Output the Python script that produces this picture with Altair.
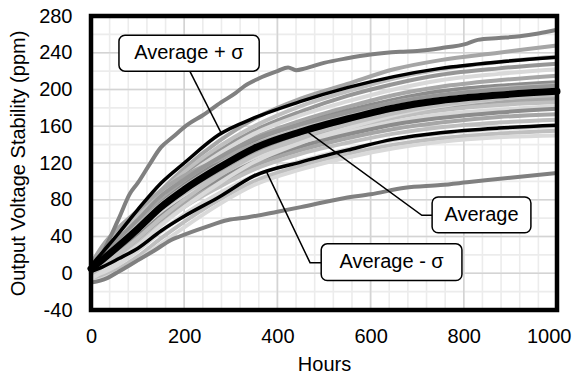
import altair as alt
import pandas as pd

# ---------------- data ----------------
hours = [0, 25, 60, 100, 150, 200, 275, 350, 450, 550, 650, 750, 875, 1000]

average   = [5, 15, 30, 48, 72, 91, 115, 136, 154, 168, 180, 188, 194, 198]
avg_plus  = [8, 23, 44, 69, 98, 120, 151, 169, 187, 202, 214, 223, 230, 235]
avg_minus = [2, 7, 16, 27, 46, 62, 83, 106, 121, 134, 146, 153, 158, 161]

top_hours = [0, 25, 60, 84, 100, 125, 150, 175, 208, 240, 279, 310, 330, 360, 400,
             423, 440, 460, 500, 550, 600, 663, 700, 750, 807, 830, 875, 920, 960, 1000]
top_outlier = [0, 22, 60, 87, 98, 118, 137, 148, 162, 172, 186, 196, 204, 212, 220,
               224, 221, 223, 229, 234, 238, 241, 242, 245, 250, 254, 256, 258, 261, 265]
bottom_hours = [0, 20, 36, 60, 100, 137, 171, 190, 244, 294, 337, 400, 450, 545, 600,
                674, 750, 807, 900, 1000]
bottom_outlier = [-10, -8, -5, 2, 14, 25, 36, 40, 50, 58, 61, 67, 72, 82, 86,
                  93, 96, 99, 104, 109]

g01 = [3, 20, 40, 62, 90, 114, 144, 168, 190, 206, 222, 232, 240, 248]
g02 = [6, 22, 42, 63, 88, 110, 138, 160, 182, 198, 212, 222, 230, 236]
g03 = [2, 16, 34, 55, 82, 105, 133, 155, 176, 193, 206, 216, 223, 228]
g04 = [8, 24, 40, 58, 84, 104, 130, 152, 172, 187, 200, 210, 217, 222]
g05 = [4, 17, 33, 52, 78, 99, 125, 147, 166, 181, 194, 203, 210, 215]
g06 = [5, 16, 32, 51, 76, 96, 121, 143, 162, 177, 189, 198, 204, 208]
g07 = [7, 19, 34, 52, 75, 94, 118, 140, 158, 173, 186, 194, 201, 205]
g08 = [3, 13, 29, 47, 70, 90, 114, 135, 153, 168, 180, 188, 195, 200]
g09 = [6, 17, 31, 48, 71, 89, 112, 132, 150, 164, 176, 184, 190, 194]
g10 = [4, 14, 28, 45, 68, 86, 109, 129, 147, 160, 172, 180, 186, 190]
g11 = [2, 11, 25, 42, 65, 84, 107, 127, 144, 157, 169, 177, 183, 186]
g12 = [5, 14, 27, 43, 64, 82, 104, 124, 141, 154, 165, 173, 178, 182]
g13 = [3, 12, 25, 40, 62, 80, 102, 121, 138, 151, 162, 169, 175, 179]
g14 = [1, 9, 21, 37, 58, 76, 98, 117, 134, 147, 157, 164, 170, 173]
g15 = [-2, 5, 17, 32, 53, 72, 94, 113, 130, 142, 152, 159, 164, 167]
g16 = [-5, 0, 10, 24, 45, 64, 87, 106, 122, 135, 145, 152, 157, 160]
g17 = [-8, -4, 5, 18, 38, 56, 80, 100, 117, 130, 140, 147, 152, 155]
g18 = [-10, -6, 2, 14, 32, 50, 75, 96, 113, 126, 136, 143, 148, 150]
g19 = [10, 30, 50, 68, 90, 106, 124, 140, 154, 165, 175, 182, 188, 192]
g20 = [-6, 2, 15, 30, 52, 72, 98, 121, 142, 158, 172, 182, 190, 196]
g21 = [2, 18, 38, 58, 84, 102, 126, 146, 162, 175, 186, 194, 200, 204]
g22 = [0, 10, 22, 38, 60, 80, 106, 128, 148, 162, 174, 183, 190, 194]

gray_series = [g01, g02, g03, g04, g05, g06, g07, g08, g09, g10, g11,
               g12, g13, g14, g15, g16, g17, g18, g19, g20, g21, g22]
gray_colors = ["#a6a6a6", "#bfbfbf", "#969696", "#d9d9d9", "#a6a6a6", "#8c8c8c",
               "#bfbfbf", "#d9d9d9", "#969696", "#a6a6a6", "#bfbfbf", "#d9d9d9",
               "#8c8c8c", "#a6a6a6", "#bfbfbf", "#d9d9d9", "#bfbfbf", "#d9d9d9",
               "#a6a6a6", "#d9d9d9", "#969696", "#bfbfbf"]

x_ticks = [0, 200, 400, 600, 800, 1000]
y_ticks = [-40, 0, 40, 80, 120, 160, 200, 240, 280]
x_minor = list(range(0, 1001, 40))
y_minor = list(range(-40, 281, 20))

# callouts
callout_text = ["Average + \u03c3", "Average", "Average - \u03c3"]
box_x1 = [60, 732, 494]
box_x2 = [361, 944, 796]
box_y1 = [259, 83, 32]
box_y2 = [220, 44, -8]
text_x = [210, 838, 645]
text_y = [239.5, 63.5, 11.8]
leader_id = [0, 0, 1, 1, 1, 2, 2, 2]
leader_h = [212, 280, 459, 710, 732, 377, 470, 494]
leader_v = [220, 152, 156, 63, 63, 110, 11.5, 11.5]

# ---------------- tables ----------------
def long_table(hours_list, series_list, names, colors, widths):
    rows = []
    for hs, s, n, c, w in zip(hours_list, series_list, names, colors, widths):
        for i, (h, v) in enumerate(zip(hs, s)):
            rows.append({"series": n, "hours": h, "value": v, "color": c, "w": w, "i": i})
    return pd.DataFrame(rows)

gray_df = long_table([hours] * len(gray_series), gray_series,
                     [f"g{k}" for k in range(len(gray_series))],
                     gray_colors, [4] * len(gray_series))
out_df = long_table([top_hours, bottom_hours], [top_outlier, bottom_outlier],
                    ["top", "bottom"], ["#808080", "#808080"], [4, 4])
blk_df = long_table([hours] * 3, [avg_plus, avg_minus, average], ["plus", "minus", "avg"],
                    ["#000000"] * 3, [3.5, 3.5, 7])

W, H = 466, 294
xs = alt.Scale(domain=[0, 1000], nice=False, zero=False)
ys = alt.Scale(domain=[-40, 280], nice=False, zero=False)
FONT = "Liberation Sans"

xaxis = alt.Axis(values=x_ticks, title="Hours", grid=False, domain=False, ticks=False,
                 tickSize=0, labelPadding=16, labelOverlap=False, labelFlush=False,
                 labelAlign={"expr": "datum.value == 1000 ? 'right' : 'center'"},
                 labelOffset={"expr": "datum.value == 1000 ? 14 : 0"},
                 labelExpr="'' + datum.value", titlePadding=8)
yaxis = alt.Axis(values=y_ticks, title="Output Voltage Stability (ppm)", grid=False,
                 domain=False, ticks=False, tickSize=0, labelPadding=19, labelOverlap=False,
                 labelFlush=False, labelExpr="'' + datum.value", titlePadding=10)

base_x = alt.X("hours:Q", scale=xs, axis=xaxis)
base_y = alt.Y("value:Q", scale=ys, axis=yaxis)

vminor = alt.Chart(pd.DataFrame({"hours": x_minor})).mark_rule(color="#ececec", strokeWidth=1.6).encode(
    x=alt.X("hours:Q", scale=xs, axis=xaxis))
hminor = alt.Chart(pd.DataFrame({"value": y_minor})).mark_rule(color="#ececec", strokeWidth=1.6).encode(
    y=alt.Y("value:Q", scale=ys, axis=yaxis))
vmajor = alt.Chart(pd.DataFrame({"hours": x_ticks})).mark_rule(color="#d4d4d4", strokeWidth=1.6).encode(
    x=alt.X("hours:Q", scale=xs, axis=xaxis))
hmajor = alt.Chart(pd.DataFrame({"value": y_ticks})).mark_rule(color="#d4d4d4", strokeWidth=1.6).encode(
    y=alt.Y("value:Q", scale=ys, axis=yaxis))

def lines(df):
    return alt.Chart(df).mark_line(interpolate="monotone", strokeCap="round", strokeJoin="round").encode(
        x=base_x, y=base_y, detail="series:N", order="i:Q",
        color=alt.Color("color:N", scale=None),
        strokeWidth=alt.StrokeWidth("w:Q", scale=None))

grays = lines(gray_df)
outs = lines(out_df)
blacks = lines(blk_df)

leader_df = pd.DataFrame({"id": leader_id, "hours": leader_h, "value": leader_v,
                          "i": list(range(len(leader_h)))})
leaders = alt.Chart(leader_df).mark_line(color="#000000", strokeWidth=1.5).encode(
    x=base_x, y=base_y, detail="id:N", order="i:Q")

box_df = pd.DataFrame({"x1": box_x1, "x2": box_x2, "y1": box_y1, "y2": box_y2,
                       "tx": text_x, "ty": text_y, "label": callout_text})
boxes = alt.Chart(box_df).mark_rect(fill="#ffffff", stroke="#000000", strokeWidth=1.5,
                                     cornerRadius=6).encode(
    x=alt.X("x1:Q", scale=xs, axis=xaxis), x2="x2:Q",
    y=alt.Y("y1:Q", scale=ys, axis=yaxis), y2="y2:Q")
labels = alt.Chart(box_df).mark_text(font=FONT, fontSize=20, color="#000000",
                                      align="center", baseline="middle").encode(
    x=alt.X("tx:Q", scale=xs, axis=xaxis), y=alt.Y("ty:Q", scale=ys, axis=yaxis),
    text="label:N")

frame = alt.Chart(pd.DataFrame({"a": [0]})).mark_rect(fill=None, stroke="#000000",
                                                      strokeWidth=4.5).encode(
    x=alt.XDatum(datum=0, scale=xs, axis=xaxis), x2=alt.datum(1000),
    y=alt.YDatum(datum=-40, scale=ys, axis=yaxis), y2=alt.datum(280))

chart = alt.layer(vminor, hminor, vmajor, hmajor, grays, outs, blacks, leaders, boxes,
                  labels, frame).properties(
    width=W, height=H,
    autosize=alt.AutoSizeParams(type="none"),
    padding={"left": 83, "top": 8, "right": 15, "bottom": 61},
).configure_view(stroke=None).configure(background="#ffffff").configure_axis(
    labelFont=FONT, labelFontSize=20, labelColor="#000000", labelOverlap=False,
    labelFlush=False, titleFont=FONT, titleFontSize=20, titleFontWeight="normal",
    titleColor="#000000", grid=False, domain=False, ticks=False)

chart.save("out.html", embed_options={"renderer": "svg", "actions": False})
